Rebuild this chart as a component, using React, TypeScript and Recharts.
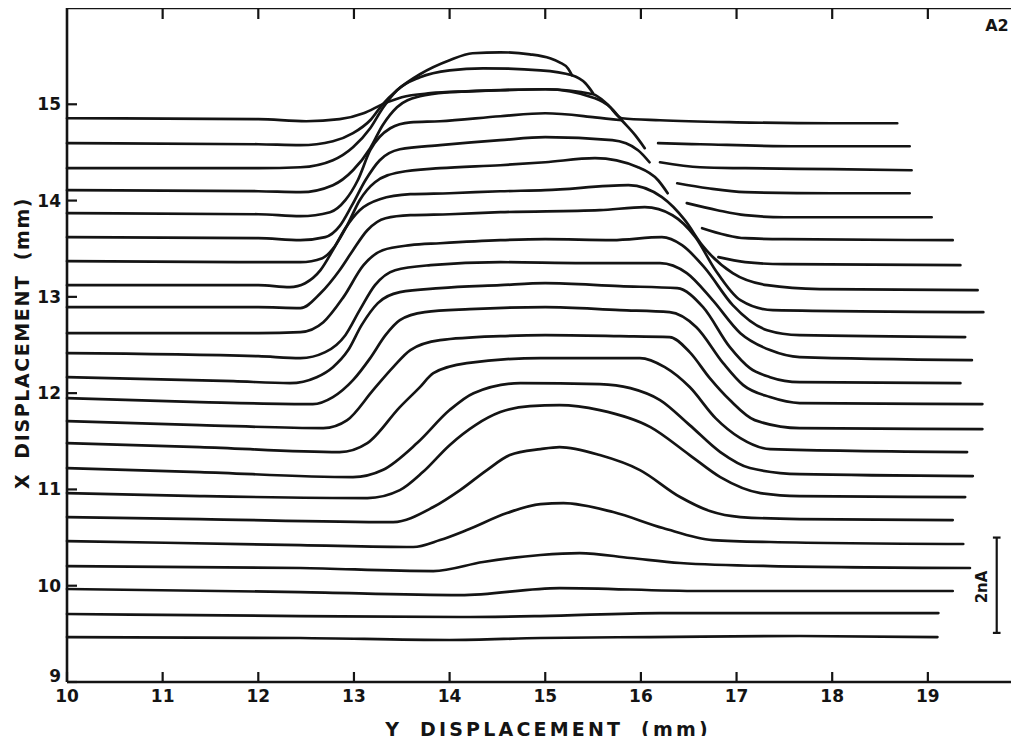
import React from 'react';
import { LineChart, Line, XAxis, YAxis, ReferenceLine } from 'recharts';

type Pt = [number, number];

// Axis ticks (mm)
const yDispTicks = [10, 11, 12, 13, 14, 15, 16, 17, 18, 19];
const xDispTicks = [9, 10, 11, 12, 13, 14, 15];
const topInnerTicks = [11, 12, 13, 14, 15, 16, 17, 18, 19];
const rightInnerTicks = [10, 11, 12, 13, 14, 15];
const X_MIN = 10;
const X_MAX = 20;
const Y_MIN = 9;
const Y_MAX = 16;

// Scan traces: [Y displacement, X displacement + signal], top scan first.
// Where the pen lifted, a scan is split into a head and a tail.
const scan01: Pt[] = [[10, 14.855], [12, 14.845], [12.5, 14.824], [12.85, 14.845], [13.1, 14.907], [13.3, 15.0], [13.5, 15.073], [13.8, 15.115], [14.2, 15.135], [15, 15.156], [15.5, 15.104], [15.65, 15.0], [15.8, 14.855], [16.2, 14.834], [17, 14.813], [18, 14.803], [18.68, 14.803]];
const scan02: Pt[] = [[10, 14.596], [12, 14.585], [12.44, 14.575], [12.78, 14.616], [12.99, 14.7], [13.17, 14.834], [13.3, 15.0], [13.45, 15.146], [13.69, 15.312], [14, 15.457], [14.24, 15.53], [14.53, 15.54], [14.84, 15.519], [15.05, 15.478], [15.15, 15.436], [15.24, 15.37], [15.28, 15.3]];
const scan02Tail: Pt[] = [[16.18, 14.596], [16.62, 14.585], [17.66, 14.564], [18.81, 14.564]];
const scan03: Pt[] = [[10, 14.336], [12, 14.336], [12.44, 14.346], [12.78, 14.419], [12.99, 14.554], [13.17, 14.751], [13.3, 14.959], [13.45, 15.146], [13.69, 15.281], [14, 15.353], [14.35, 15.374], [14.95, 15.353], [15.28, 15.301], [15.42, 15.218], [15.5, 15.115]];
const scan03Tail: Pt[] = [[16.2, 14.398], [16.62, 14.346], [17.09, 14.336], [18, 14.326], [18.83, 14.315]];
const scan04: Pt[] = [[10, 14.108], [12, 14.097], [12.44, 14.087], [12.78, 14.16], [12.99, 14.315], [13.17, 14.544], [13.3, 14.782], [13.45, 14.969], [13.69, 15.083], [14, 15.125], [14.53, 15.146], [15, 15.156], [15.52, 15.063], [15.68, 14.969], [15.8, 14.834], [15.94, 14.679], [16.04, 14.544]];
const scan04Tail: Pt[] = [[16.38, 14.18], [16.7, 14.128], [17.09, 14.087], [18, 14.076], [18.81, 14.076]];
const scan05: Pt[] = [[10, 13.869], [12, 13.858], [12.44, 13.838], [12.75, 13.879], [12.91, 14.004], [13.04, 14.211], [13.17, 14.523], [13.38, 14.751], [13.59, 14.813], [13.9, 14.824], [14.53, 14.876], [15, 14.907], [15.52, 14.865], [15.8, 14.834]];
const scan05Tail: Pt[] = [[16.48, 13.973], [16.8, 13.9], [17.09, 13.848], [17.5, 13.827], [18.5, 13.827], [19.04, 13.827]];
const scan06: Pt[] = [[10, 13.62], [12, 13.609], [12.44, 13.589], [12.7, 13.62], [12.85, 13.734], [12.98, 13.952], [13.12, 14.211], [13.27, 14.419], [13.48, 14.533], [13.9, 14.575], [14.53, 14.627], [15, 14.658], [15.7, 14.627], [15.97, 14.523], [16.09, 14.398]];
const scan06Tail: Pt[] = [[16.64, 13.713], [17.09, 13.609], [17.5, 13.599], [19.26, 13.589]];
const scan07: Pt[] = [[10, 13.371], [12, 13.36], [12.44, 13.36], [12.67, 13.402], [12.8, 13.526], [12.93, 13.744], [13.06, 14.004], [13.22, 14.191], [13.48, 14.294], [13.9, 14.336], [14.53, 14.367], [15, 14.398], [15.52, 14.44], [15.97, 14.346], [16.18, 14.211], [16.28, 14.076]];
const scan07Tail: Pt[] = [[16.81, 13.412], [17.09, 13.36], [17.5, 13.339], [19.34, 13.329]];
const scan08: Pt[] = [[10, 13.121], [12, 13.121], [12.33, 13.101], [12.49, 13.142], [12.65, 13.277], [12.78, 13.485], [12.91, 13.713], [13.06, 13.9], [13.27, 14.014], [13.59, 14.066], [14, 14.076], [14.53, 14.097], [15, 14.108], [15.87, 14.16], [16.22, 14.035], [16.46, 13.796], [16.64, 13.537], [16.96, 13.246], [17.32, 13.121], [17.87, 13.08], [19.52, 13.07]];
const scan09: Pt[] = [[10, 12.893], [12, 12.893], [12.44, 12.883], [12.65, 13.038], [12.85, 13.277], [12.99, 13.485], [13.14, 13.692], [13.33, 13.817], [13.59, 13.848], [14, 13.858], [14.53, 13.879], [15.57, 13.9], [16.04, 13.931], [16.33, 13.848], [16.57, 13.62], [16.78, 13.277], [17.04, 12.966], [17.38, 12.862], [19.58, 12.841]];
const scan10: Pt[] = [[10, 12.623], [12, 12.623], [12.44, 12.634], [12.68, 12.737], [12.89, 12.997], [13.1, 13.329], [13.3, 13.485], [13.59, 13.537], [13.9, 13.557], [14.53, 13.589], [15, 13.599], [15.7, 13.589], [16.22, 13.62], [16.43, 13.537], [16.67, 13.298], [16.96, 12.914], [17.32, 12.654], [17.66, 12.602], [19.39, 12.582]];
const scan11: Pt[] = [[10, 12.416], [12, 12.384], [12.44, 12.364], [12.7, 12.426], [12.91, 12.602], [13.06, 12.862], [13.22, 13.121], [13.43, 13.277], [13.8, 13.329], [14.53, 13.36], [15.4, 13.35], [16.2, 13.35], [16.48, 13.246], [16.75, 12.966], [17.04, 12.623], [17.35, 12.447], [17.66, 12.374], [19.46, 12.343]];
const scan12: Pt[] = [[10, 12.166], [11.74, 12.125], [12.33, 12.104], [12.61, 12.166], [12.78, 12.27], [12.94, 12.447], [13.08, 12.706], [13.25, 12.935], [13.48, 13.049], [13.9, 13.09], [14.53, 13.121], [15, 13.142], [15.78, 13.111], [16.38, 13.09], [16.65, 12.893], [16.93, 12.478], [17.14, 12.26], [17.35, 12.166], [17.66, 12.114], [19.34, 12.104]];
const scan13: Pt[] = [[10, 11.948], [11.39, 11.907], [12.57, 11.886], [12.78, 11.959], [12.99, 12.135], [13.17, 12.364], [13.33, 12.602], [13.48, 12.758], [13.74, 12.841], [14.21, 12.872], [15, 12.893], [15.78, 12.862], [16.3, 12.841], [16.58, 12.685], [16.86, 12.312], [17.07, 12.083], [17.35, 11.959], [17.66, 11.897], [19.57, 11.886]];
const scan14: Pt[] = [[10, 11.71], [11.39, 11.668], [12.68, 11.637], [12.93, 11.72], [13.2, 12.031], [13.41, 12.27], [13.59, 12.447], [13.9, 12.55], [14.53, 12.592], [15, 12.602], [15.78, 12.592], [16.3, 12.582], [16.51, 12.426], [16.72, 12.156], [16.93, 11.928], [17.19, 11.72], [17.66, 11.637], [19.57, 11.627]];
const scan15: Pt[] = [[10, 11.481], [11.39, 11.44], [12.85, 11.388], [13.14, 11.481], [13.48, 11.855], [13.69, 12.063], [13.83, 12.208], [14.18, 12.312], [14.95, 12.364], [15.99, 12.364], [16.25, 12.27], [16.51, 12.063], [16.78, 11.741], [17.04, 11.533], [17.35, 11.419], [19.41, 11.388]];
const scan16: Pt[] = [[10, 11.222], [11.39, 11.18], [12.99, 11.128], [13.3, 11.201], [13.66, 11.481], [14, 11.824], [14.25, 12.0], [14.74, 12.104], [15.57, 12.094], [15.89, 12.052], [16.2, 11.928], [16.51, 11.668], [16.83, 11.388], [17.14, 11.222], [17.66, 11.159], [19.47, 11.139]];
const scan17: Pt[] = [[10, 10.962], [11.39, 10.931], [13.14, 10.91], [13.48, 10.993], [13.72, 11.18], [14, 11.46], [14.27, 11.668], [14.53, 11.803], [14.84, 11.865], [15.15, 11.876], [15.57, 11.824], [16.1, 11.647], [16.51, 11.357], [16.83, 11.128], [17.25, 10.962], [17.66, 10.931], [19.39, 10.921]];
const scan18: Pt[] = [[10, 10.713], [11.39, 10.692], [13.41, 10.661], [13.83, 10.817], [14.11, 10.993], [14.39, 11.201], [14.63, 11.357], [14.95, 11.419], [15.15, 11.44], [15.57, 11.357], [15.99, 11.201], [16.41, 10.921], [16.72, 10.775], [17.04, 10.713], [17.66, 10.692], [19.26, 10.682]];
const scan19: Pt[] = [[10, 10.464], [12.44, 10.422], [13.62, 10.402], [13.9, 10.474], [14.18, 10.578], [14.6, 10.755], [14.95, 10.848], [15.19, 10.858], [15.71, 10.765], [16.23, 10.599], [16.75, 10.474], [17.35, 10.454], [19.37, 10.433]];
const scan20: Pt[] = [[10, 10.204], [12.44, 10.184], [13.83, 10.152], [14.35, 10.246], [14.95, 10.319], [15.36, 10.339], [15.89, 10.288], [16.41, 10.236], [17.35, 10.204], [19.44, 10.184]];
const scan21: Pt[] = [[10, 9.966], [12.44, 9.934], [14.11, 9.903], [15.15, 9.976], [16.62, 9.945], [19.26, 9.945]];
const scan22: Pt[] = [[10, 9.706], [12.44, 9.685], [14.11, 9.675], [14.95, 9.685], [16.2, 9.716], [19.11, 9.716]];
const scan23: Pt[] = [[10, 9.467], [12.44, 9.457], [14, 9.436], [14.95, 9.457], [16.09, 9.467], [17.66, 9.478], [19.1, 9.467]];

const traces: Pt[][] = [
  scan01, scan02, scan02Tail, scan03, scan03Tail, scan04, scan04Tail,
  scan05, scan05Tail, scan06, scan06Tail, scan07, scan07Tail,
  scan08, scan09, scan10, scan11, scan12, scan13, scan14, scan15,
  scan16, scan17, scan18, scan19, scan20, scan21, scan22, scan23,
];

// 2 nA calibration bar
const barAt = 19.72;
const barLow = 9.51;
const barHigh = 10.5;
const barCapHalf = 0.04;

// plot box geometry (px), shared by the chart margins and the frame overlay
const CHART_W = 1030;
const CHART_H = 744;
const PLOT_LEFT = 67;
const PLOT_TOP = 8;
const PLOT_RIGHT = 1023.5;
const PLOT_BOTTOM = 682;
const pxX = (v: number) => PLOT_LEFT + ((v - X_MIN) / (X_MAX - X_MIN)) * (PLOT_RIGHT - PLOT_LEFT);
const pxY = (v: number) => PLOT_BOTTOM - ((v - Y_MIN) / (Y_MAX - Y_MIN)) * (PLOT_BOTTOM - PLOT_TOP);

const INK = '#141414';
const FONT = '"DejaVu Sans", "Liberation Sans", sans-serif';
const tickFont = { fill: INK, fontSize: 17, fontWeight: 700, fontFamily: FONT };
const axisStroke = { stroke: INK, strokeWidth: 2.6 };
const tickStroke = { stroke: INK, strokeWidth: 2.2 };

// Left tick labels; the corner "9" sits a little higher so it clears the "10" below it.
const LeftTick = (props: any) => {
  const { x, y, payload } = props;
  const lift = payload.value === 9 ? -6 : 0;
  return (
    <text x={x} y={y + lift} textAnchor="end" dominantBaseline="central" {...tickFont}>
      {payload.value}
    </text>
  );
};

const seg = (x1: number, y1: number, x2: number, y2: number, key: string, w = 2.2) => (
  <ReferenceLine
    key={key}
    xAxisId="h"
    yAxisId="v"
    ifOverflow="visible"
    stroke={INK}
    strokeWidth={w}
    segment={[{ x: x1, y: y1 }, { x: x2, y: y2 }]}
  />
);

export default function App() {
  return (
    <div style={{ position: 'relative', width: 1019, height: 744, margin: -8, overflow: 'hidden', background: '#fff' }}>
      <LineChart
        width={CHART_W}
        height={CHART_H}
        margin={{ top: PLOT_TOP, right: CHART_W - PLOT_RIGHT, bottom: 0, left: 0 }}
      >
        <XAxis
          xAxisId="h"
          type="number"
          dataKey="x"
          domain={[X_MIN, X_MAX]}
          ticks={yDispTicks}
          interval={0}
          height={CHART_H - PLOT_BOTTOM}
          tickSize={-10}
          tickMargin={18}
          axisLine={axisStroke}
          tickLine={tickStroke}
          tick={tickFont}
        />
        <YAxis
          yAxisId="v"
          type="number"
          domain={[Y_MIN, Y_MAX]}
          ticks={xDispTicks}
          interval={0}
          width={PLOT_LEFT}
          tickSize={-10}
          tickMargin={16}
          axisLine={axisStroke}
          tickLine={tickStroke}
          tick={<LeftTick />}
        />
        {traces.map((pts, i) => (
          <Line
            key={`scan${i}`}
            xAxisId="h"
            yAxisId="v"
            data={pts.map(([x, y]) => ({ x, y }))}
            dataKey="y"
            type="monotone"
            stroke={INK}
            strokeWidth={2.7}
            strokeLinecap="round"
            dot={false}
            activeDot={false}
            isAnimationActive={false}
          />
        ))}
        {seg(barAt, barLow, barAt, barHigh, 'bar')}
        {seg(barAt - barCapHalf, barHigh, barAt + barCapHalf, barHigh, 'bar-top')}
        {seg(barAt - barCapHalf, barLow, barAt + barCapHalf, barLow, 'bar-bottom')}
      </LineChart>
      <svg width={1019} height={744} style={{ position: 'absolute', left: 0, top: 0, pointerEvents: 'none' }}>
        {/* top edge of the frame with its inward ticks, and the inward ticks of the right edge */}
        <g stroke={INK}>
          <line x1={PLOT_LEFT} y1={PLOT_TOP} x2={PLOT_RIGHT} y2={PLOT_TOP} strokeWidth={2.6} />
          <line x1={PLOT_RIGHT} y1={PLOT_TOP} x2={PLOT_RIGHT} y2={PLOT_BOTTOM} strokeWidth={2.6} />
          {topInnerTicks.map((t) => (
            <line key={`tt${t}`} x1={pxX(t)} y1={PLOT_TOP} x2={pxX(t)} y2={PLOT_TOP + 11} strokeWidth={2.2} />
          ))}
          {rightInnerTicks.map((t) => (
            <line key={`rt${t}`} x1={PLOT_RIGHT - 10} y1={pxY(t)} x2={PLOT_RIGHT} y2={pxY(t)} strokeWidth={2.2} />
          ))}
        </g>
        <g fill={INK} fontFamily={FONT} fontWeight={700}>
          <text x={548} y={729} textAnchor="middle" dominantBaseline="central" fontSize={19} letterSpacing={3.2} style={{ wordSpacing: 8 }}>
            Y DISPLACEMENT (mm)
          </text>
          <text transform="translate(22,343) rotate(-90)" textAnchor="middle" dominantBaseline="central" fontSize={19} letterSpacing={1.6} style={{ wordSpacing: 6 }}>
            X DISPLACEMENT (mm)
          </text>
          <text x={997} y={25} textAnchor="middle" dominantBaseline="central" fontSize={16}>A2</text>
          <text transform="translate(982,587) rotate(-90)" textAnchor="middle" dominantBaseline="central" fontSize={15}>2nA</text>
        </g>
      </svg>
    </div>
  );
}
